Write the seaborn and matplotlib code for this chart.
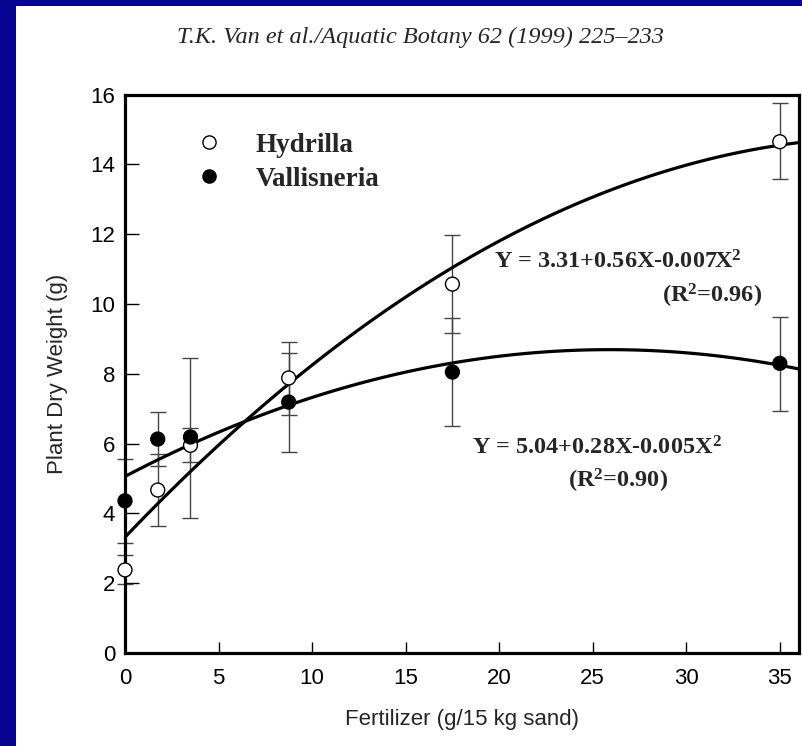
import numpy as np
import pandas as pd
import matplotlib.pyplot as plt
import seaborn as sns
from matplotlib.patches import Rectangle

# fertilizer levels (g / 15 kg sand)
fert = [0, 1.75, 3.5, 8.75, 17.5, 35]

# mean plant dry weight (g), with error bar extents
hydrilla = [2.38, 4.67, 5.95, 7.88, 10.57, 14.65]
hydrilla_lo = [0.40, 1.03, 2.08, 1.06, 1.40, 1.08]
hydrilla_hi = [0.43, 1.03, 2.50, 1.03, 1.40, 1.12]
vallis = [4.36, 6.13, 6.19, 7.19, 8.05, 8.30]
vallis_lo = [1.22, 0.77, 0.72, 1.42, 1.55, 1.37]
vallis_hi = [1.20, 0.77, 0.27, 1.40, 1.55, 1.33]

species = ["Hydrilla", "Vallisneria"]
eq_text = [r"Y = 3.31+0.56X-0.007X$^{2}$", r"Y = 5.04+0.28X-0.005X$^{2}$"]
r2_text = [r"(R$^{2}$=0.96)", r"(R$^{2}$=0.90)"]
source = "T.K. Van et al./Aquatic Botany 62 (1999) 225–233"

df = pd.DataFrame({
    "fert": fert * 2,
    "weight": hydrilla + vallis,
    "species": [species[0]] * 6 + [species[1]] * 6,
})

sns.set_style("ticks")
plt.rcParams["font.family"] = ["Liberation Sans", "DejaVu Sans"]
plt.rcParams["mathtext.fontset"] = "custom"
plt.rcParams["mathtext.rm"] = "Liberation Serif:bold"
plt.rcParams["mathtext.it"] = "Liberation Serif:bold"
plt.rcParams["mathtext.bf"] = "Liberation Serif:bold"

fig = plt.figure(figsize=(8.02, 7.46), dpi=100)
fig.patch.set_facecolor("#050592")
# white slide panel
fig.patches.append(Rectangle((16 / 802, 0), 1, 1 - 6 / 746, transform=fig.transFigure,
                             facecolor="white", edgecolor="none", zorder=-5))

ax = fig.add_axes([125 / 802, 1 - 653 / 746, 673.5 / 802, 558.4 / 746])
ax.set_facecolor("white")
ax.set_xlim(0, 36)
ax.set_ylim(0, 16)

# error bars
ax.errorbar(fert, hydrilla, yerr=[hydrilla_lo, hydrilla_hi], fmt="none",
            ecolor="#444444", elinewidth=1, capsize=6, capthick=1, zorder=2, clip_on=False)
ax.errorbar(fert, vallis, yerr=[vallis_lo, vallis_hi], fmt="none",
            ecolor="#444444", elinewidth=1, capsize=6, capthick=1, zorder=2, clip_on=False)

# quadratic fits
for y in [hydrilla, vallis]:
    sns.regplot(x=fert, y=y, order=2, ci=None, scatter=False, truncate=False, ax=ax,
                line_kws=dict(color="black", lw=2.3, zorder=3))

sns.scatterplot(data=df, x="fert", y="weight", hue="species", style="species",
                palette={"Hydrilla": "white", "Vallisneria": "black"},
                markers={"Hydrilla": "o", "Vallisneria": "o"},
                edgecolor="black", linewidth=1, s=100, zorder=4, ax=ax, clip_on=False,
                legend=False)

ax.set_xticks(range(0, 36, 5))
ax.set_yticks(range(0, 17, 2))
ax.tick_params(direction="in", length=8, width=1, labelsize=16, colors="black")
ax.tick_params(axis="x", pad=11)
ax.tick_params(axis="y", length=10, pad=7)
for s in ax.spines.values():
    s.set_linewidth(2.3)
    s.set_color("black")
ax.set_xlabel("Fertilizer (g/15 kg sand)", fontsize=16)
ax.set_ylabel("Plant Dry Weight (g)", fontsize=16)
ax.xaxis.set_label_coords(0.5, -0.100)
ax.yaxis.set_label_coords(-0.085, 0.5)

# legend
serif_b = dict(family=["Liberation Serif", "DejaVu Serif"], weight="bold")
h1 = plt.Line2D([], [], ls="none", marker="o", ms=9.5, mfc="white", mec="black", mew=1)
h2 = plt.Line2D([], [], ls="none", marker="o", ms=9.5, mfc="black", mec="black", mew=1)
ax.legend([h1, h2], species, loc="upper left", bbox_to_anchor=(0.084, 0.956),
          frameon=False, handlelength=1.0, handletextpad=1.24, labelspacing=0.33,
          borderpad=0, prop=dict(size=19.5, **serif_b))

# fit equations
ax.text(19.75, 11.03, eq_text[0], fontsize=17.5, va="baseline", ha="left", **serif_b)
ax.text(34.05, 10.03, r2_text[0], fontsize=17.5, va="baseline", ha="right", **serif_b)
ax.text(18.55, 5.70, eq_text[1], fontsize=17.5, va="baseline", ha="left", **serif_b)
ax.text(23.68, 4.73, r2_text[1], fontsize=17.5, va="baseline", ha="left", **serif_b)

fig.text(420 / 802, 1 - 37 / 746, source, ha="center", va="center", fontsize=17.5,
         family=["Liberation Serif", "DejaVu Serif"], style="italic")

fig.savefig("out.png", dpi=100, facecolor=fig.get_facecolor())
